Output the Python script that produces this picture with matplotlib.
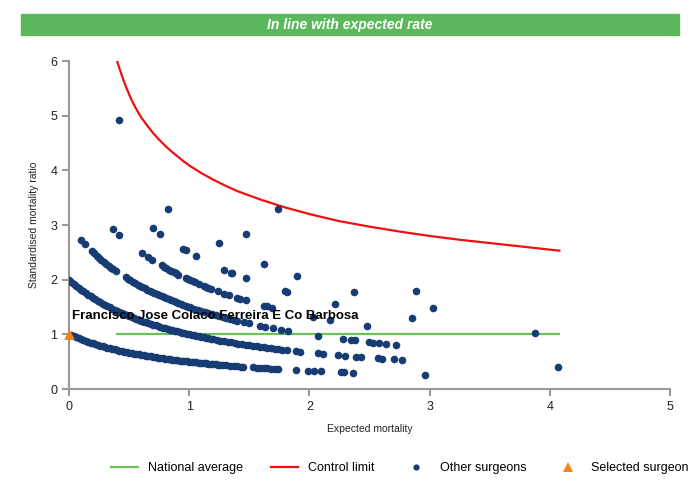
import numpy as np
import matplotlib
matplotlib.use("Agg")
import matplotlib.pyplot as plt
from matplotlib.lines import Line2D

plt.rcParams['font.family'] = ['Liberation Sans', 'DejaVu Sans']

# Other surgeons: expected mortality grouped by observed deaths
exp_obs0 = [0.02, 0.04, 0.06, 0.08, 0.10, 0.12, 0.14, 0.16, 0.18, 0.20, 0.22, 0.24,
            0.26, 0.28, 0.30, 0.32, 0.34, 0.36, 0.38, 0.40, 0.42, 0.44, 0.46, 0.48,
            0.50, 0.52, 0.54, 0.56, 0.58, 0.60, 0.62, 0.64, 0.66, 0.68, 0.70, 0.72,
            0.74, 0.76, 0.78, 0.80, 0.82, 0.84, 0.86, 0.88, 0.90, 0.92, 0.94, 0.96,
            0.98, 1.00, 1.02, 1.04, 1.06, 1.08, 1.10, 1.12, 1.14, 1.16, 1.18, 1.20,
            1.22, 1.24, 1.26, 1.28, 1.31, 1.34, 1.37, 1.40, 1.43, 1.45, 1.53, 1.56,
            1.59, 1.62, 1.65, 1.68, 1.71, 1.74, 1.89, 1.99, 2.04, 2.10, 2.26, 2.29,
            2.36, 2.96]
exp_obs1 = [0.00, 0.02, 0.04, 0.06, 0.08, 0.10, 0.12, 0.14, 0.16, 0.18, 0.20, 0.22,
            0.24, 0.26, 0.28, 0.30, 0.32, 0.34, 0.36, 0.38, 0.40, 0.42, 0.44, 0.46,
            0.48, 0.50, 0.52, 0.54, 0.56, 0.58, 0.60, 0.62, 0.64, 0.66, 0.68, 0.70,
            0.72, 0.74, 0.76, 0.78, 0.80, 0.82, 0.84, 0.86, 0.88, 0.90, 0.92, 0.94,
            0.96, 0.98, 1.00, 1.02, 1.04, 1.06, 1.08, 1.10, 1.12, 1.14, 1.16, 1.18,
            1.20, 1.23, 1.26, 1.29, 1.32, 1.35, 1.38, 1.41, 1.44, 1.47, 1.50, 1.53,
            1.56, 1.59, 1.62, 1.65, 1.68, 1.71, 1.74, 1.77, 1.81, 1.89, 1.92, 2.07,
            2.11, 2.24, 2.30, 2.39, 2.43, 2.57, 2.60, 2.70, 2.77, 4.07]
exp_obs2 = [0.10, 0.13, 0.19, 0.21, 0.23, 0.25, 0.27, 0.29, 0.31, 0.33, 0.35, 0.37,
            0.39, 0.47, 0.49, 0.51, 0.53, 0.55, 0.57, 0.59, 0.61, 0.63, 0.65, 0.67,
            0.69, 0.71, 0.73, 0.75, 0.77, 0.79, 0.81, 0.83, 0.85, 0.87, 0.89, 0.91,
            0.93, 0.95, 0.97, 0.99, 1.01, 1.04, 1.07, 1.10, 1.13, 1.16, 1.19, 1.22,
            1.25, 1.28, 1.31, 1.34, 1.37, 1.40, 1.46, 1.50, 1.59, 1.63, 1.70, 1.76,
            1.82, 2.07, 2.28, 2.35, 2.38, 2.50, 2.53, 2.58, 2.64, 2.72]
exp_obs3 = [0.37, 0.42, 0.61, 0.66, 0.69, 0.77, 0.79, 0.81, 0.83, 0.85, 0.87, 0.89,
            0.91, 0.97, 0.99, 1.01, 1.03, 1.05, 1.08, 1.12, 1.14, 1.16, 1.18, 1.24,
            1.29, 1.33, 1.40, 1.42, 1.47, 1.62, 1.65, 1.69, 2.03, 2.17, 2.48]
exp_obs4 = [0.70, 0.76, 0.95, 0.97, 1.06, 1.29, 1.35, 1.36, 1.47, 1.80, 1.81, 2.21,
            2.85, 3.88]
exp_obs5 = [0.82, 1.25, 1.62, 1.90, 2.37, 3.03]
exp_obs6 = [0.42, 1.47, 2.89]
exp_obs8 = [1.74]

# Selected surgeon
sel_expected = [0.0]
sel_observed = [0]
sel_name = "Francisco Jose Colaco Ferreira E Co Barbosa"

# Control limit
cl_expected = [0.40, 0.42, 0.45, 0.47, 0.50, 0.52, 0.55, 0.57, 0.60, 0.65, 0.70,
               0.75, 0.80, 0.85, 0.90, 0.95, 1.00, 1.10, 1.20, 1.30, 1.40, 1.50,
               1.60, 1.70, 1.80, 1.90, 2.00, 2.25, 2.50, 2.75, 3.00, 3.25, 3.50,
               3.75, 4.08]
cl_smr = [6.00, 5.86, 5.67, 5.55, 5.39, 5.29, 5.16, 5.08, 4.97, 4.82, 4.68,
          4.56, 4.45, 4.35, 4.26, 4.17, 4.09, 3.95, 3.83, 3.72, 3.62, 3.54,
          3.46, 3.39, 3.32, 3.26, 3.20, 3.07, 2.97, 2.88, 2.80, 2.73, 2.67,
          2.61, 2.53]
nat_expected = [0.40, 4.08]
nat_smr = [1.0, 1.0]

groups = {0: exp_obs0, 1: exp_obs1, 2: exp_obs2, 3: exp_obs3,
          4: exp_obs4, 5: exp_obs5, 6: exp_obs6, 8: exp_obs8}
ex_all, smr_all = [], []
for obs, ex in groups.items():
    ex = np.array(ex)
    ex_all.extend(ex)
    smr_all.extend((obs + 1) / (ex + 1))
sel_smr = [(o + 1) / (e + 1) for o, e in zip(sel_observed, sel_expected)]

GREEN = '#5cb85c'
LINE_GREEN = '#6cc05a'
RED = '#ee1111'
NAVY = '#173c74'
ORANGE = '#f5821f'
GREY = '#9a9a9a'

fig = plt.figure(figsize=(7, 5), dpi=100)
ax = fig.add_axes([0.0986, 0.222, 0.8585, 0.656])

# header bar
fig.patches.append(plt.Rectangle((0.03, 0.93), 0.94, 0.042, transform=fig.transFigure,
                                 color=GREEN, zorder=0))
fig.text(0.5, 0.951, "In line with expected rate", color='white', fontsize=10,
         fontweight='bold', style='italic', ha='center', va='center')

ax.plot(nat_expected, nat_smr, color=LINE_GREEN, lw=1.6, zorder=2)
ax.plot(cl_expected, cl_smr, color=RED, lw=1.6, zorder=2)
ax.scatter(ex_all, smr_all, s=30, color=NAVY, linewidths=0, zorder=3)
ax.scatter(sel_expected, sel_smr, marker='^', s=60, color=ORANGE, linewidths=0,
           zorder=4, clip_on=False)
ax.text(0.025, 1.33, sel_name, fontsize=9.5, fontweight='bold', color='black',
        va='center', ha='left', zorder=5)

ax.set_xlim(0, 5)
ax.set_ylim(0, 6)
ax.set_xticks(range(0, 6))
ax.set_yticks(range(0, 7))
for s in ['top', 'right']:
    ax.spines[s].set_visible(False)
for s in ['left', 'bottom']:
    ax.spines[s].set_color(GREY)
    ax.spines[s].set_linewidth(1.5)
ax.tick_params(colors=GREY, width=1.5, length=5, labelsize=9, labelcolor='#222222')
ax.set_xlabel("Expected mortality", fontsize=7.5, color='#222222', labelpad=8)
ax.set_ylabel("Standardised mortality ratio", fontsize=7.5, color='#222222', labelpad=8)

handles = [
    Line2D([], [], color=LINE_GREEN, lw=1.6),
    Line2D([], [], color=RED, lw=1.6),
    Line2D([], [], ls='none', marker='o', ms=4.5, color=NAVY, mew=0),
    Line2D([], [], ls='none', marker='^', ms=7, color=ORANGE, mew=0),
]
labels = ['National average', 'Control limit', 'Other surgeons', 'Selected surgeon']
fig.legend(handles, labels, loc='center', bbox_to_anchor=(0.571, 0.064), ncol=4,
           frameon=False, fontsize=9, handlelength=2.2, columnspacing=2.2)

fig.savefig("out.png", dpi=100)
